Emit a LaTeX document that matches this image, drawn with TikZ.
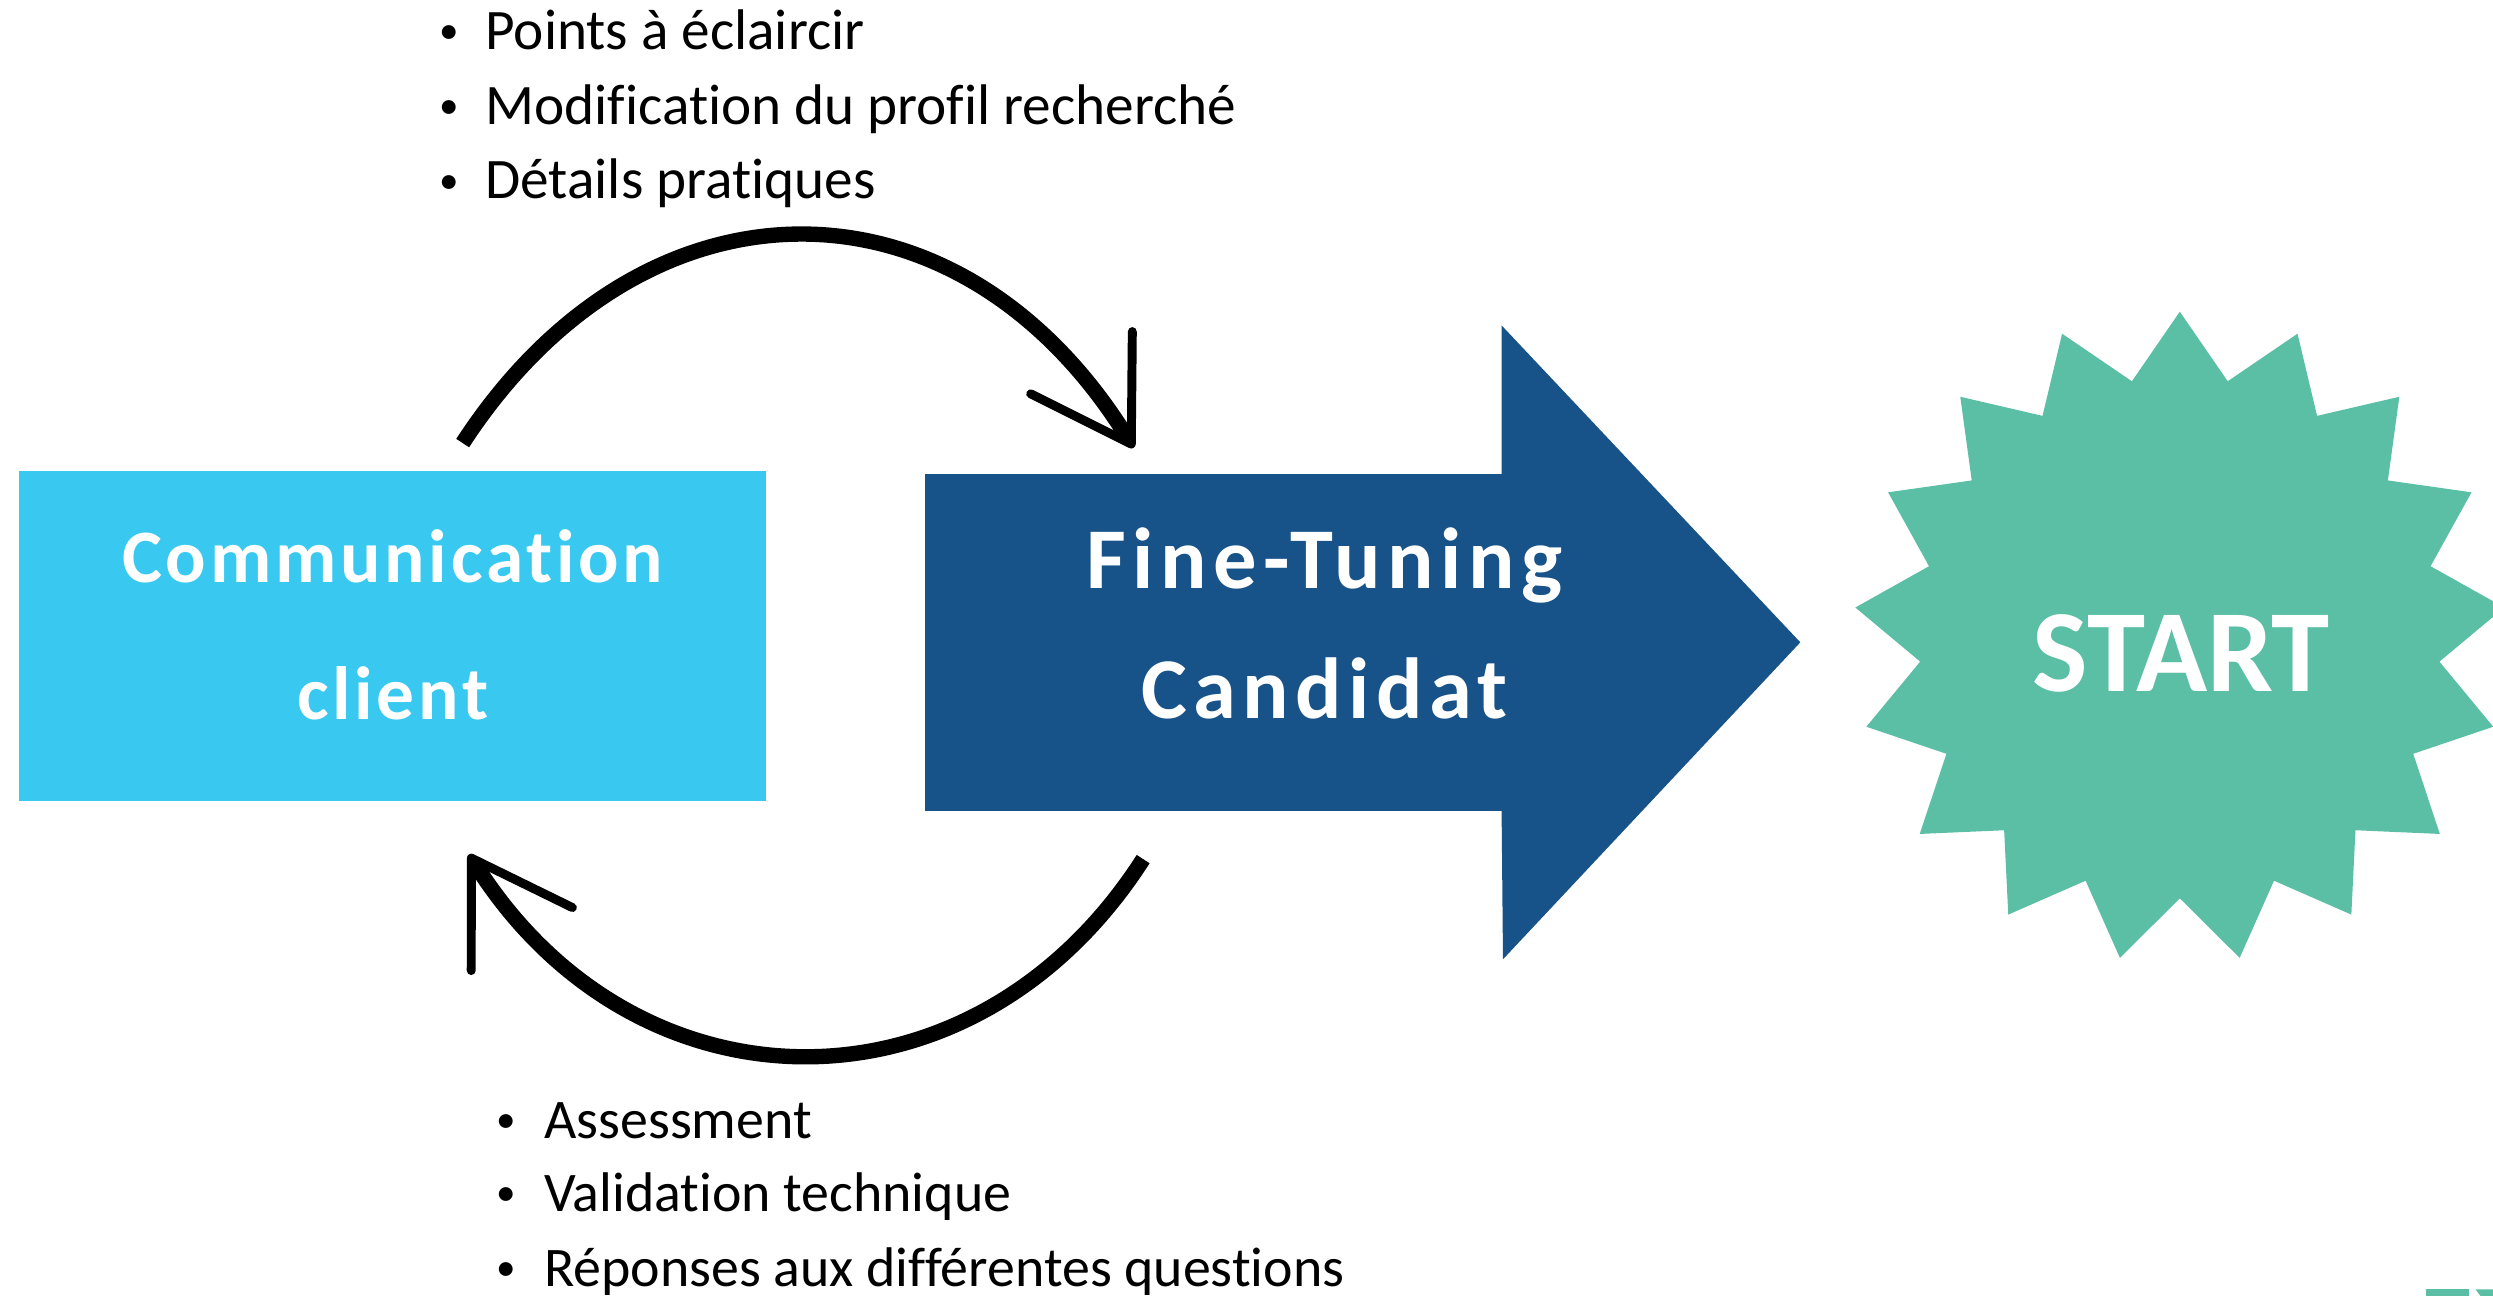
\documentclass[tikz,border=0pt]{standalone}
\usepackage{fontspec}
\setmainfont{Carlito}[Ligatures=NoCommon]
\usepackage{tikz}
\usetikzlibrary{shapes.geometric,arrows.meta,calc}
\definecolor{commblue}{RGB}{57,201,240}
\definecolor{fineblue}{RGB}{23,83,137}
\definecolor{startgreen}{RGB}{91,191,166}
\newcommand{\dotmark}{\makebox[0pt]{\raisebox{0.1em}{\fontsize{14}{14}\selectfont •}}}

\begin{document}
\begin{tikzpicture}[
    x=0.02cm, y=-0.02cm,
    >={Straight Barb[length=1.2cm, width=1.5cm, line width=3.2pt, round]},
    block/.style={
		rectangle,
		inner sep=0pt,
		minimum width=9.4cm,
		minimum height=4.16cm,
		fill=commblue
	},
    body/.style={
		rectangle,
		inner sep=0pt,
		minimum width=7.26cm,
		minimum height=4.24cm,
		fill=fineblue
	},
    burst/.style={
		star,
		star points=17,
		star point ratio=1.25,
		minimum size=8.2cm,
		inner sep=0pt,
		fill=startgreen
	},
    boxtext/.style={
		text=white,
		align=center,
		inner sep=0pt
	},
    item/.style={
		anchor=base west,
		inner sep=0pt,
		font=\fontsize{20.5}{24}\selectfont
	},
    feedback/.style={
		line width=5.5pt,
		->
	}
  ]
  \useasboundingbox (0,0) rectangle (1568,815);
  \clip (0,0) rectangle (1568,815);

    % the three blocks
  \node [block] (comm) at (247,400) {};
  \node [boxtext, font=\fontsize{27}{49}\selectfont\bfseries\addfontfeature{LetterSpace=5}] (commtxt) at (247,393)
  {Communication\\client};

  \node [body] (fine) at (763.5,404) {};
  \fill [fineblue] ([xshift=-0.5pt]fine.north east) -- ++(0,-93) -- ($(fine.east)+(187,0)$)
    -- ($(fine.south east)+(0,93)$) -- ([xshift=-0.5pt]fine.south east) -- cycle;
  \node [boxtext, font=\fontsize{31}{46.5}\selectfont\bfseries\addfontfeature{LetterSpace=7.5}] (finetxt) at (833,392)
  {Fine-Tuning\\Candidat};

  \node [burst] (start) at (1371,401) {};
  \node [boxtext, font=\fontsize{42}{49}\selectfont\bfseries] (starttxt) at (1372,411) {START};

  \fill [startgreen] (1526,811) rectangle (1553,815);
  \fill [startgreen] (1557,811) -- (1568,811) -- (1568,815) -- (1560,815) -- cycle;

    % the loop between client and candidate
  \draw [feedback] ($(comm.north)+(44,-17)$) .. controls +(114,-175) and +(-109,-178) .. ($(fine.north)+(-50.5,-16)$);
  \draw [feedback] ($(fine.south)+(-44.5,30)$) .. controls +(-107,167) and +(104,167) .. ($(comm.south)+(48,33)$);

  \node [item] (up1) at (282,31) {\dotmark\hspace{0.46cm}Points à éclaircir};
  \node [item] (up2) at (282,78) {\dotmark\hspace{0.46cm}Modification du profil recherché};
  \node [item] (up3) at (282,125) {\dotmark\hspace{0.46cm}Détails pratiques};

  \node [item, font=\fontsize{20}{24}\selectfont] (down1) at (318,716) {\dotmark\hspace{0.48cm}Assessment};
  \node [item, font=\fontsize{20}{24}\selectfont] (down2) at (318,762) {\dotmark\hspace{0.48cm}Validation technique};
  \node [item, font=\fontsize{20}{24}\selectfont] (down3) at (318,809) {\dotmark\hspace{0.48cm}Réponses aux différentes questions};

\end{tikzpicture}
\end{document}
